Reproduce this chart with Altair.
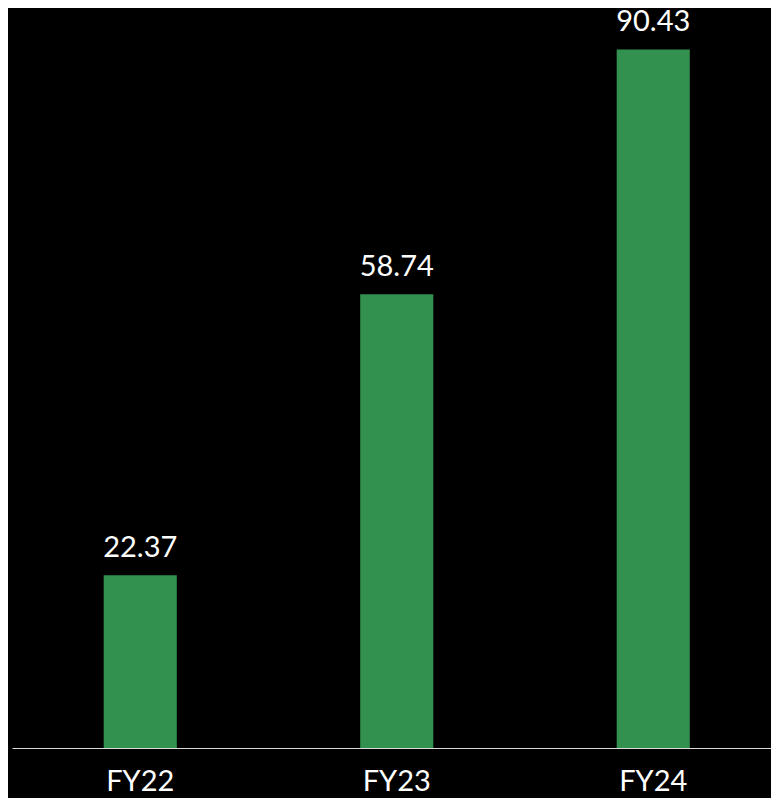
import altair as alt
import pandas as pd

categories = ["FY22", "FY23", "FY24"]
values = [22.37, 58.74, 90.43]
labels = ["22.37", "58.74", "90.43"]

df = pd.DataFrame({"year": categories, "value": values, "label": labels})

FONT = "Lato"

base = alt.Chart(df).encode(
    x=alt.X(
        "year:N",
        sort=categories,
        title=None,
        scale=alt.Scale(paddingInner=0.715, paddingOuter=0.3575, range=[0, 769.5]),
        axis=alt.Axis(
            labelAngle=0,
            labelFontSize=29,
            labelFont=FONT,
            labelColor="#ffffff",
            labelPadding=19,
            ticks=False,
            domainColor="#d9d9d9",
            domainWidth=1,
            grid=False,
        ),
    ),
    y=alt.Y(
        "value:Q",
        title=None,
        scale=alt.Scale(domain=[0, 95.8], nice=False, zero=True),
        axis=None,
    ),
)

bars = base.mark_bar(color="#32914f")
text = base.mark_text(
    baseline="alphabetic",
    dy=-18,
    fontSize=29,
    font=FONT,
    color="#ffffff",
).encode(text="label:N")

chart = (
    alt.layer(bars, text)
    .properties(
        width=759,
        height=740,
        autosize=alt.AutoSizeParams(type="none"),
        padding={"left": 4, "top": 0, "right": 0, "bottom": 50},
        background="#000000",
    )
    .configure_view(stroke=None)
)

chart.save("out.html", embed_options={"renderer": "svg", "actions": False})
